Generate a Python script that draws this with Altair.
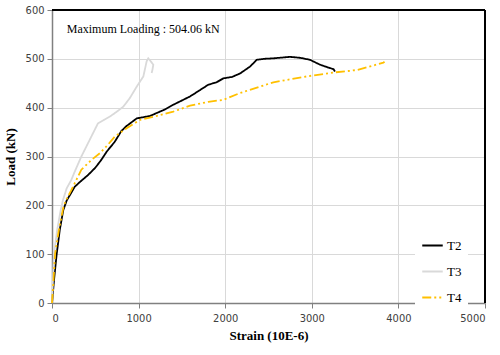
import altair as alt
import pandas as pd

t2_strain = [0, 25, 54, 90, 130, 170, 210, 262, 330, 416, 500, 569, 632, 724, 800, 858, 978, 1132, 1209, 1300, 1401, 1594, 1700, 1805, 1900, 1978, 2080, 2171, 2286, 2364, 2450, 2556, 2748, 2870, 2979, 3095, 3210, 3250, 3268]
t2_load = [0, 50, 100, 150, 190, 210, 222, 238, 249, 262, 277, 293, 310, 330, 352, 362, 378, 383, 389, 396, 406, 423, 435, 447, 452, 460, 463, 470, 484, 498, 500, 501, 504.06, 502, 498, 488, 481, 479, 474]

t3_strain = [0, 23, 60, 100, 127, 170, 223, 260, 339, 435, 531, 600, 670, 750, 823, 900, 978, 1055, 1093, 1112, 1140, 1170, 1160, 1151]
t3_load = [0, 100, 150, 190, 211, 235, 252, 268, 300, 334, 368, 375, 382, 392, 402, 420, 443, 464, 495, 501, 495, 488, 478, 471]

t4_strain = [0, 15, 35, 80, 130, 160, 220, 339, 450, 554, 640, 727, 862, 1016, 1209, 1401, 1594, 1805, 1978, 2171, 2556, 2941, 3249, 3519, 3826, 3840]
t4_load = [0, 40, 100, 150, 195, 210, 230, 273, 292, 307, 323, 341, 358, 375, 383, 392, 404, 412, 416, 430, 452, 464, 472, 477, 492, 494]

series = ["T2", "T3", "T4"]
colors = ["#000000", "#d9d9d9", "#ffc000"]
dashes = [[1, 0], [1, 0], [9, 3, 2, 3, 2, 3]]

annotation = "Maximum Loading : 504.06 kN"

rows = []
for name, xs, ys in [("T2", t2_strain, t2_load), ("T3", t3_strain, t3_load), ("T4", t4_strain, t4_load)]:
    for i, (a, b) in enumerate(zip(xs, ys)):
        rows.append({"series": name, "strain": a, "load": b, "idx": i})
df = pd.DataFrame(rows)

W, H = 433, 293
xscale = alt.Scale(domain=[0, 5000], nice=False)
yscale = alt.Scale(domain=[0, 600], nice=False)

common_axis = dict(labelFont="DejaVu Sans Condensed", labelFontSize=11, labelColor="#404040",
                   titleFont="Liberation Serif", titleFontSize=13, titleFontWeight="bold",
                   titleColor="#000000", domainColor="#808080", domainWidth=1.5,
                   tickColor="#808080", tickSize=5, gridColor="#d9d9d9", format="d")

lines = alt.Chart(df).mark_line(strokeWidth=1.8).encode(
    x=alt.X("strain:Q", scale=xscale,
            axis=alt.Axis(title="Strain (10E-6)", values=[0, 1000, 2000, 3000, 4000, 5000],
                          labelPadding=4, titlePadding=6, **common_axis)),
    y=alt.Y("load:Q", scale=yscale,
            axis=alt.Axis(title="Load (kN)", values=[0, 100, 200, 300, 400, 500, 600],
                          labelPadding=3, titlePadding=8, **common_axis)),
    color=alt.Color("series:N", scale=alt.Scale(domain=series, range=colors),
                    legend=alt.Legend(title=None, orient="none", legendX=363, legendY=218,
                                      symbolType="stroke", symbolStrokeWidth=2, symbolSize=420,
                                      labelFont="Liberation Serif", labelFontSize=13,
                                      labelColor="#000000", fillColor="#ffffff", padding=6,
                                      rowPadding=7, labelOffset=3)),
    strokeDash=alt.StrokeDash("series:N", scale=alt.Scale(domain=series, range=dashes), legend=None),
    order=alt.Order("idx:Q"),
)

ann_df = pd.DataFrame({"strain": [170], "load": [562], "text": [annotation]})
ann = alt.Chart(ann_df).mark_text(align="left", baseline="middle", font="Liberation Serif",
                                  fontSize=12, color="#000000").encode(
    x=alt.X("strain:Q", scale=xscale), y=alt.Y("load:Q", scale=yscale), text="text:N")

top_border = alt.Chart(ann_df).mark_rule(color="#000000", strokeWidth=2).encode(
    x=alt.datum(0), x2=alt.datum(5000), y=alt.datum(600))
right_border = alt.Chart(ann_df).mark_rule(color="#000000", strokeWidth=2).encode(
    x=alt.datum(5000), y=alt.datum(0), y2=alt.datum(600))

chart = alt.layer(lines, ann, top_border, right_border).properties(
    width=W, height=H,
    background="#ffffff",
    autosize=alt.AutoSizeParams(type="none"),
    padding={"left": 52, "top": 10, "right": 15, "bottom": 52},
).configure_view(stroke=None)

chart.save("out.html", embed_options={"renderer": "svg", "actions": False})
